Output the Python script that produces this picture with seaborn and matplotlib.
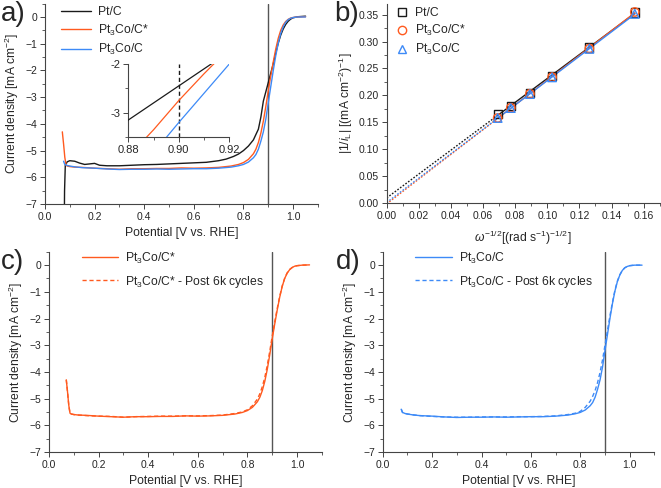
import numpy as np
import matplotlib
matplotlib.use("Agg")
import matplotlib.pyplot as plt
import seaborn as sns
from matplotlib.ticker import MultipleLocator
from matplotlib.lines import Line2D

sns.set_style("ticks")
plt.rcParams['font.family'] = ['Liberation Sans', 'DejaVu Sans']
plt.rcParams['mathtext.fontset'] = 'custom'
plt.rcParams['mathtext.rm'] = 'Liberation Sans'
plt.rcParams['mathtext.it'] = 'Liberation Sans:italic'

BLACK = "#1a1a1a"
ORANGE = "#ff5a1f"
BLUE = "#3d8af7"
VLINE = "#555555"

# ---- panel a: LSV curves (potential V vs RHE, current density mA cm-2) ----
pt_v = [0.078, 0.079, 0.082, 0.09, 0.10, 0.12, 0.14, 0.16, 0.18, 0.20, 0.22, 0.25,
        0.30, 0.35, 0.40, 0.45, 0.50, 0.55, 0.60, 0.65, 0.70, 0.73, 0.76, 0.78,
        0.80, 0.82, 0.84, 0.86, 0.87, 0.88, 0.89, 0.90, 0.91, 0.92, 0.93, 0.94,
        0.95, 0.96, 0.97, 0.98, 0.99, 1.00, 1.02, 1.05]
pt_j = [-7.6, -6.5, -5.55, -5.42, -5.38, -5.40, -5.47, -5.52, -5.50, -5.48, -5.55, -5.57,
        -5.57, -5.55, -5.53, -5.52, -5.50, -5.48, -5.46, -5.44, -5.38, -5.32, -5.22, -5.13,
        -5.00, -4.83, -4.60, -4.20, -3.75, -3.15, -2.80, -2.45, -2.10, -1.75, -1.35, -0.98,
        -0.68, -0.45, -0.28, -0.16, -0.08, -0.03, 0.01, 0.03]

co_star_v = [0.070, 0.075, 0.080, 0.085, 0.09, 0.10, 0.12, 0.15, 0.20, 0.25, 0.30, 0.35,
             0.40, 0.45, 0.50, 0.55, 0.60, 0.65, 0.70, 0.75, 0.78, 0.80, 0.82, 0.84,
             0.85, 0.86, 0.87, 0.88, 0.89, 0.90, 0.91, 0.92, 0.93, 0.94, 0.95, 0.96,
             0.97, 0.98, 0.99, 1.00, 1.02, 1.05]
co_star_j = [-4.30, -4.75, -5.25, -5.55, -5.58, -5.60, -5.62, -5.63, -5.66, -5.68, -5.70, -5.68,
             -5.68, -5.67, -5.67, -5.65, -5.66, -5.65, -5.63, -5.58, -5.52, -5.45, -5.33, -5.12,
             -4.95, -4.70, -4.35, -3.90, -3.35, -2.75, -2.20, -1.68, -1.20, -0.80, -0.50, -0.30,
             -0.17, -0.09, -0.04, -0.02, 0.00, 0.01]

co_v = [0.075, 0.080, 0.09, 0.10, 0.12, 0.15, 0.20, 0.25, 0.30, 0.35, 0.40, 0.45,
        0.50, 0.55, 0.60, 0.65, 0.70, 0.75, 0.78, 0.80, 0.82, 0.84, 0.85, 0.86,
        0.87, 0.88, 0.89, 0.90, 0.91, 0.92, 0.93, 0.94, 0.95, 0.96, 0.97, 0.98,
        0.99, 1.00, 1.02, 1.05]
co_j = [-5.40, -5.52, -5.56, -5.58, -5.61, -5.64, -5.66, -5.69, -5.71, -5.70, -5.70, -5.69,
        -5.70, -5.69, -5.68, -5.68, -5.66, -5.62, -5.57, -5.52, -5.43, -5.27, -5.15, -4.95,
        -4.65, -4.30, -3.82, -3.20, -2.60, -2.00, -1.45, -0.98, -0.62, -0.37, -0.20, -0.10,
        -0.05, -0.02, 0.00, 0.00]

# ---- panel c / d: post 6k cycles (dashed) ----
co_star_post_j = [-4.30, -4.75, -5.25, -5.55, -5.58, -5.60, -5.62, -5.64, -5.66, -5.67, -5.70, -5.68,
                  -5.67, -5.66, -5.66, -5.65, -5.65, -5.64, -5.62, -5.56, -5.50, -5.42, -5.27, -5.02,
                  -4.82, -4.55, -4.20, -3.75, -3.22, -2.65, -2.12, -1.62, -1.17, -0.78, -0.49, -0.29,
                  -0.16, -0.09, -0.04, -0.02, 0.00, 0.01]
co_post_j = [-5.40, -5.52, -5.56, -5.58, -5.61, -5.64, -5.67, -5.69, -5.70, -5.70, -5.69, -5.69,
             -5.69, -5.68, -5.68, -5.67, -5.65, -5.60, -5.55, -5.48, -5.33, -5.10, -4.92, -4.70,
             -4.40, -4.02, -3.55, -3.00, -2.45, -1.90, -1.40, -0.95, -0.60, -0.36, -0.20, -0.10,
             -0.05, -0.02, 0.00, 0.00]

# ---- panel b: Koutecky-Levich ----
omega_inv_sqrt = [0.0691, 0.0773, 0.0892, 0.1030, 0.1262, 0.1545]
kl_pt = [0.166, 0.181, 0.205, 0.236, 0.289, 0.354]
kl_co_star = [0.158, 0.177, 0.203, 0.234, 0.287, 0.355]
kl_co = [0.158, 0.1765, 0.2025, 0.2335, 0.2865, 0.3515]

LBL_PT = "Pt/C"
LBL_COS = "Pt$_3$Co/C*"
LBL_CO = "Pt$_3$Co/C"

fig = plt.figure(figsize=(6.61, 4.88), dpi=100)
ax_a = fig.add_axes([0.068, 0.582, 0.413, 0.4106])
ax_b = fig.add_axes([0.585, 0.584, 0.413, 0.408])
ax_c = fig.add_axes([0.074, 0.074, 0.413, 0.410])
ax_d = fig.add_axes([0.579, 0.074, 0.411, 0.410])
ax_in = fig.add_axes([0.194, 0.719, 0.153, 0.150])

FS_TICK = 7.5
FS_LAB = 8.7


def style_axis(ax, xmaj, xmin, ymaj, ymin):
    sns.despine(ax=ax)
    ax.xaxis.set_major_locator(MultipleLocator(xmaj))
    ax.xaxis.set_minor_locator(MultipleLocator(xmin))
    ax.yaxis.set_major_locator(MultipleLocator(ymaj))
    ax.yaxis.set_minor_locator(MultipleLocator(ymin))
    ax.tick_params(which='major', direction='out', length=3.5, width=0.7,
                   labelsize=FS_TICK, color='#444444', pad=2)
    ax.tick_params(which='minor', direction='out', length=2, width=0.6, color='#444444')
    for s in ('left', 'bottom'):
        ax.spines[s].set_linewidth(0.8)
        ax.spines[s].set_color('#444444')


def lsv_axis(ax):
    style_axis(ax, 0.2, 0.1, 1, 0.5)
    ax.set_xlim(0, 1.1)
    ax.set_ylim(-7, 0.5)
    ax.xaxis.set_major_formatter(matplotlib.ticker.FormatStrFormatter('%.1f'))
    ax.set_xlabel("Potential [V vs. RHE]", fontsize=FS_LAB, labelpad=4)
    ax.set_ylabel("Current density [mA cm$^{-2}$]", fontsize=FS_LAB, labelpad=3)
    ax.axvline(0.9, color=VLINE, lw=1.0, zorder=1)


def curve(ax, v, j, color, ls='-', lw=1.0):
    sns.lineplot(x=v, y=j, ax=ax, color=color, sort=False, estimator=None,
                 linestyle=ls, linewidth=lw, zorder=3)


# panel a
lsv_axis(ax_a)
curve(ax_a, pt_v, pt_j, BLACK)
curve(ax_a, co_star_v, co_star_j, ORANGE)
curve(ax_a, co_v, co_j, BLUE)
ax_a.legend(handles=[Line2D([], [], color=BLACK, lw=1, label=LBL_PT),
                     Line2D([], [], color=ORANGE, lw=1, label=LBL_COS),
                     Line2D([], [], color=BLUE, lw=1, label=LBL_CO)],
            loc='upper left', bbox_to_anchor=(0.02, 1.04), frameon=False,
            fontsize=FS_LAB, handlelength=2.5, labelspacing=0.35, handletextpad=0.5)

# inset
curve(ax_in, pt_v, pt_j, BLACK, lw=0.9)
curve(ax_in, co_star_v, co_star_j, ORANGE, lw=0.9)
curve(ax_in, co_v, co_j, BLUE, lw=0.9)
ax_in.set_xlim(0.88, 0.92)
ax_in.set_ylim(-3.5, -2)
ax_in.axvline(0.9, color=BLACK, lw=1.0, ls=(0, (3, 2)))
style_axis(ax_in, 0.02, 0.01, 1, 0.5)
ax_in.xaxis.set_major_formatter(matplotlib.ticker.FormatStrFormatter('%.2f'))
ax_in.yaxis.set_major_formatter(matplotlib.ticker.FormatStrFormatter('%d'))
ax_in.tick_params(labelsize=8)
ax_in.set_xlabel("")
ax_in.set_ylabel("")
ax_in.patch.set_alpha(0)

# panel b
style_axis(ax_b, 0.02, 0.01, 0.05, 0.025)
ax_b.set_xlim(0, 0.17)
ax_b.set_ylim(0, 0.37)
ax_b.xaxis.set_major_formatter(matplotlib.ticker.FormatStrFormatter('%.2f'))
ax_b.yaxis.set_major_formatter(matplotlib.ticker.FormatStrFormatter('%.2f'))
x_arr = np.array(omega_inv_sqrt)
for yv, col, mk, ms in [(kl_pt, BLACK, 's', 34), (kl_co_star, ORANGE, 'o', 36), (kl_co, BLUE, '^', 38)]:
    slope, icpt = np.polyfit(x_arr, yv, 1)
    xs = np.array([x_arr.min(), x_arr.max()])
    xd = np.array([0.0, x_arr.min()])
    ax_b.plot(xs, slope * xs + icpt, color=col, lw=1.0, zorder=2)
    ax_b.plot(xd, slope * xd + icpt, color=col, lw=1.0, ls=(0, (1.2, 1.2)), zorder=2)
    sns.scatterplot(x=omega_inv_sqrt, y=yv, ax=ax_b, marker=mk, s=ms,
                    facecolor='none', edgecolor=col, linewidth=1.0, zorder=4)
ax_b.set_xlabel(r"$\omega^{-1/2}$[(rad s$^{-1}$)$^{-1/2}$]", fontsize=FS_LAB, labelpad=6)
ax_b.set_ylabel(r"|1/$i_\mathrm{L}$| [(mA cm$^{-2}$)$^{-1}$]", fontsize=FS_LAB, labelpad=3)
ax_b.legend(handles=[Line2D([], [], ls='', marker='s', mfc='none', mec=BLACK, ms=6, label=LBL_PT),
                     Line2D([], [], ls='', marker='o', mfc='none', mec=ORANGE, ms=6, label=LBL_COS),
                     Line2D([], [], ls='', marker='^', mfc='none', mec=BLUE, ms=6, label=LBL_CO)],
            loc='upper left', bbox_to_anchor=(-0.01, 1.04), frameon=False,
            fontsize=FS_LAB, handlelength=1.2, handletextpad=0.5, labelspacing=0.35)

# panel c
lsv_axis(ax_c)
curve(ax_c, co_star_v, co_star_j, ORANGE)
curve(ax_c, co_star_v, co_star_post_j, ORANGE, ls=(0, (3, 2)))
ax_c.legend(handles=[Line2D([], [], color=ORANGE, lw=1, label=LBL_COS),
                     Line2D([], [], color=ORANGE, lw=1, ls=(0, (3, 2)),
                            label=LBL_COS + " - Post 6k cycles")],
            loc='upper left', bbox_to_anchor=(0.08, 1.06), frameon=False,
            fontsize=FS_LAB, handlelength=3.0, labelspacing=0.65, handletextpad=0.6)

# panel d
lsv_axis(ax_d)
curve(ax_d, co_v, co_j, BLUE)
curve(ax_d, co_v, co_post_j, BLUE, ls=(0, (3, 2)))
ax_d.legend(handles=[Line2D([], [], color=BLUE, lw=1, label=LBL_CO),
                     Line2D([], [], color=BLUE, lw=1, ls=(0, (3, 2)),
                            label=LBL_CO + " - Post 6k cycles")],
            loc='upper left', bbox_to_anchor=(0.08, 1.06), frameon=False,
            fontsize=FS_LAB, handlelength=3.0, labelspacing=0.65, handletextpad=0.6)

# panel letters
for txt, x, y in [("a)", 0.002, 0.998), ("b)", 0.505, 0.998), ("c)", 0.002, 0.49), ("d)", 0.508, 0.49)]:
    fig.text(x, y, txt, fontsize=20, va='top', ha='left')

fig.savefig("out.png", dpi=100)
